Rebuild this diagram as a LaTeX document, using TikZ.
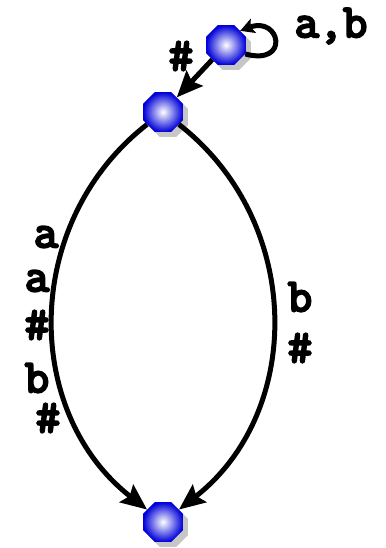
\documentclass[tikz,border=0pt]{standalone}
\usepackage{fontspec}
\setmonofont{Latin Modern Mono}[AutoFakeBold=5]
\usetikzlibrary{shapes.geometric,arrows.meta,shadows}

\begin{document}
\begin{tikzpicture}[
    x=1pt, y=1pt,
    % Node styles
    state/.style={regular polygon, regular polygon sides=8, minimum size=43pt, inner sep=0pt,
                  shading=radial, inner color=white, outer color=blue!85!black,
                  drop shadow={shadow xshift=5pt, shadow yshift=-5pt, fill=gray!45, opacity=1}},
    sym/.style={font=\fontsize{47}{47}\selectfont\ttfamily\bfseries},
    edge/.style={-{Stealth[length=26pt, width=22pt, inset=4pt]}, line width=5pt, draw=black},
    loopedge/.style={-{Stealth[length=14pt, width=15pt, inset=3pt]}, line width=5pt, draw=black},
]
\useasboundingbox (0,0) rectangle (385,548);

% ============================================================
% States
% ============================================================
\node[state] (q0) at (226, 503) {};
\node[state] (q1) at (163, 436) {};
\node[state] (q2) at (163, 26) {};

% ============================================================
% Transitions
% ============================================================
\draw[loopedge] (q0.-25) .. controls +(45,-12) and +(40,15) .. (q0.45);
\draw[edge] (q0) -- (q1);
\draw[edge] (q1) .. controls +(-141,-110) and +(-141,110) .. (q2);
\draw[edge] (q1) .. controls +(141,-110) and +(141,110) .. (q2);

% ============================================================
% Labels
% ============================================================
\node[sym] (lab) at (331, 522) {a,b};
\node[sym] (lhash) at (181, 492) {\#};

\node[sym] (la1) at (46, 311) {a};
\node[sym] (la2) at (37, 267) {a};
\node[sym] (la3) at (37, 223) {\#};
\node[sym] (la4) at (37, 170) {b};
\node[sym] (la5) at (48, 130) {\#};

\node[sym] (lb1) at (300, 251) {b};
\node[sym] (lb2) at (300, 200) {\#};

\end{tikzpicture}
\end{document}
